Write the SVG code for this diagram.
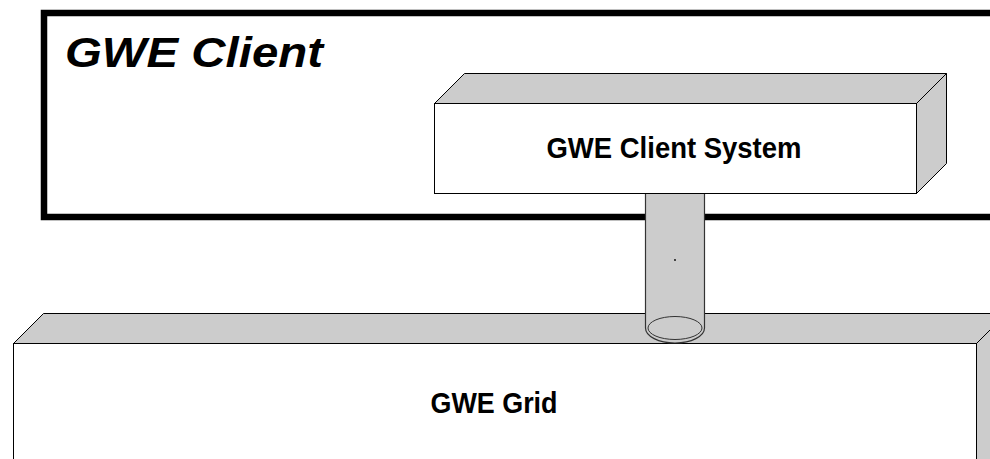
<svg xmlns="http://www.w3.org/2000/svg" width="990" height="459" viewBox="0 0 990 459">
<style>
.face{fill:#fff;stroke:#000;stroke-width:1}
.side{fill:#ccc;stroke:#000;stroke-width:1}
.lbl{font-family:"Liberation Sans",Arial,sans-serif;font-weight:bold;font-size:30px;fill:#000;text-anchor:middle}
</style>
<rect width="990" height="459" fill="#fff"/>
<g id="gwe-client">
<rect x="44" y="13" width="1000" height="204" fill="#fff" stroke="#000" stroke-width="6.5"/>
<text x="65" y="67" font-family="Liberation Sans, Arial, sans-serif" font-weight="bold" font-style="italic" font-size="42" textLength="258" lengthAdjust="spacingAndGlyphs">GWE Client</text>
</g>
<g id="gwe-grid">
<polygon class="side" points="13.5,343.5 43.5,313.5 1006.5,313.5 976.5,343.5"/>
<polygon class="side" points="976.5,343.5 1006.5,313.5 1006.5,480 976.5,480"/>
<rect class="face" x="13.5" y="343.5" width="963" height="140"/>
<text class="lbl" x="494" y="413" textLength="127" lengthAdjust="spacingAndGlyphs">GWE Grid</text>
</g>
<g id="connectors">
<path d="M645.5,194 L645.5,328 A29.5,15 0 0 0 704.5,328 L704.5,194" fill="#ccc" stroke="#333" stroke-width="1.2"/>
<ellipse cx="675" cy="328" rx="27" ry="11.5" fill="none" stroke="#333" stroke-width="1"/>
<circle cx="675" cy="260" r="0.9" fill="#000"/>
</g>
<g id="gwe-client-system">
<polygon class="side" points="434.5,103.5 464.5,73.5 946.5,73.5 916.5,103.5"/>
<polygon class="side" points="916.5,103.5 946.5,73.5 946.5,163.5 916.5,193.5"/>
<rect class="face" x="434.5" y="103.5" width="482" height="90"/>
<text class="lbl" x="674" y="158" textLength="255" lengthAdjust="spacingAndGlyphs">GWE Client System</text>
</g>
</svg>
